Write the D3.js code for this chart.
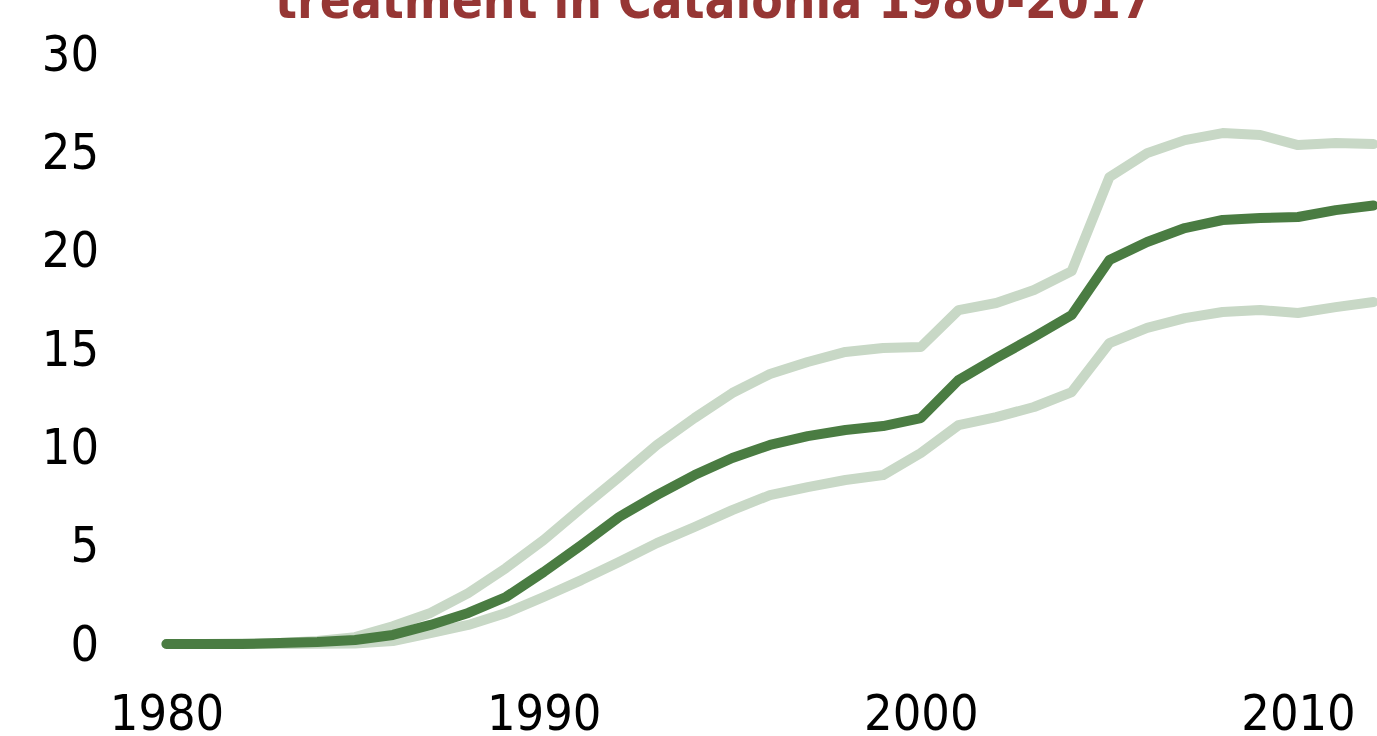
<!DOCTYPE html>
<html>
<head>
<meta charset="utf-8">
<script src="https://cdn.jsdelivr.net/npm/d3@7"></script>
<style>
  html, body { margin: 0; padding: 0; background: #fff; overflow: hidden; }
  svg { display: block; }
</style>
</head>
<body>
<div id="chart"></div>
<script>
const years = d3.range(1980, 2013);
// central estimate and the two bounds (per 100,000? as in source chart)
const central = [0, 0, 0, 0.05, 0.1, 0.2, 0.46, 0.97, 1.58, 2.39, 3.66, 5.03, 6.46, 7.57, 8.59, 9.46, 10.12, 10.57, 10.88, 11.08, 11.49, 13.42, 14.54, 15.61, 16.73, 19.52, 20.44, 21.15, 21.56, 21.66, 21.71, 22.06, 22.3];
const upper = [0, 0, 0.02, 0.05, 0.15, 0.35, 0.9, 1.58, 2.59, 3.86, 5.29, 6.91, 8.49, 10.12, 11.49, 12.76, 13.73, 14.34, 14.85, 15.05, 15.1, 16.98, 17.34, 18.0, 18.96, 23.74, 24.96, 25.62, 25.98, 25.88, 25.37, 25.47, 25.42];
const lower = [0, 0, 0, 0, 0.01, 0.03, 0.15, 0.56, 0.97, 1.58, 2.39, 3.25, 4.17, 5.13, 5.95, 6.81, 7.57, 7.98, 8.34, 8.59, 9.71, 11.13, 11.54, 12.05, 12.81, 15.3, 16.07, 16.57, 16.88, 16.98, 16.83, 17.13, 17.39];
const yTicks = [0, 5, 10, 15, 20, 25, 30];
const xTicks = [1980, 1990, 2000, 2010];
const titleText = 'treatment in Catalonia 1980-2017';

const width = 1377, height = 736;

const svg = d3.select('#chart').append('svg')
  .attr('width', width)
  .attr('height', height);

const x = d3.scaleLinear().domain([1980, 2010]).range([166.5, 1298]);
const y = d3.scaleLinear().domain([0, 30]).range([644, 54]);

const font = '"DejaVu Sans Condensed", "DejaVu Sans", sans-serif';

// y axis labels
const yAxis = svg.append('g')
  .attr('transform', 'translate(99,0)')
  .call(d3.axisLeft(y).tickValues(yTicks).tickSize(0).tickPadding(0));
yAxis.select('.domain').remove();
yAxis.selectAll('text')
  .attr('font-family', font)
  .attr('font-size', 50)
  .attr('fill', '#000');

// x axis labels
const xAxis = svg.append('g')
  .attr('transform', 'translate(0,0)')
  .call(d3.axisBottom(x).tickValues(xTicks).tickFormat(d3.format('d')).tickSize(0).tickPadding(0));
xAxis.select('.domain').remove();
xAxis.selectAll('text')
  .attr('y', 729.5)
  .attr('dy', 0)
  .attr('font-family', font)
  .attr('font-size', 50)
  .attr('fill', '#000');

const line = d3.line()
  .x((d, i) => x(years[i]))
  .y(d => y(d));

const series = [
  { values: lower, color: '#c8d8c6' },
  { values: upper, color: '#c8d8c6' },
  { values: central, color: '#4a7c42' },
];

svg.selectAll('path.series')
  .data(series)
  .enter()
  .append('path')
  .attr('class', 'series')
  .attr('d', d => line(d.values))
  .attr('fill', 'none')
  .attr('stroke', d => d.color)
  .attr('stroke-width', 10)
  .attr('stroke-linejoin', 'round')
  .attr('stroke-linecap', 'round');

// title (only its second line falls inside the frame)
const title = svg.append('text')
  .attr('x', 714)
  .attr('y', 17.5)
  .attr('text-anchor', 'middle')
  .attr('font-family', font)
  .attr('font-weight', 'bold')
  .attr('fill', '#963634')
  .attr('font-size', 40)
  .text(titleText);
const w = title.node().getComputedTextLength();
title.attr('font-size', 40 * 878 / w);
</script>
</body>
</html>
